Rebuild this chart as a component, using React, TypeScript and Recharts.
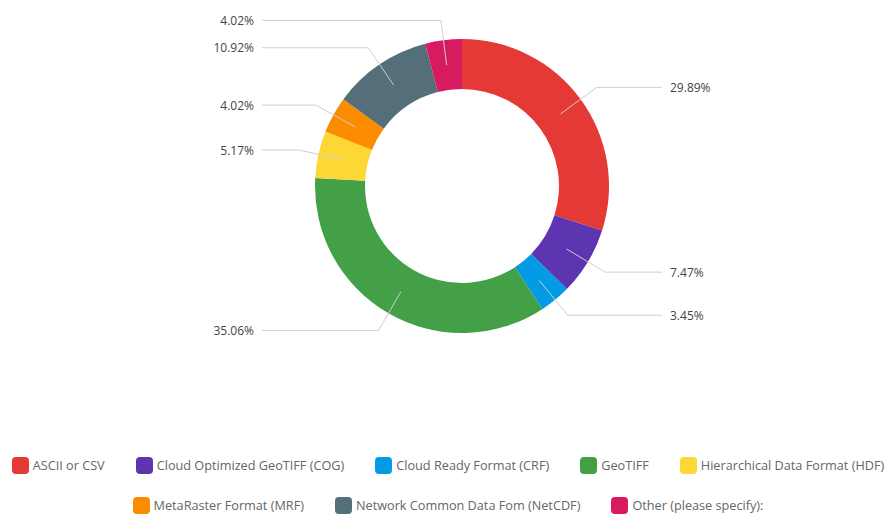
import { PieChart, Pie, Cell } from 'recharts';

const CATEGORIES = [
  'ASCII or CSV',
  'Cloud Optimized GeoTIFF (COG)',
  'Cloud Ready Format (CRF)',
  'GeoTIFF',
  'Hierarchical Data Format (HDF)',
  'MetaRaster Format (MRF)',
  'Network Common Data Fom (NetCDF)',
  'Other (please specify):',
];

const SHARES = [29.89, 7.47, 3.45, 35.06, 5.17, 4.02, 10.92, 4.02];

const COLORS = ['#e53935', '#5e35b1', '#039be5', '#43a047', '#fdd835', '#fb8c00', '#546e7a', '#d81b60'];

// legend rows as they wrap in the original
const LEGEND_ROWS = [[0, 1, 2, 3, 4], [5, 6, 7]];

const data = CATEGORIES.map((name, i) => ({ name, value: SHARES[i] }));

const RAD = Math.PI / 180;
const FONT = '"Open Sans", "Noto Sans", sans-serif';

const renderLabel = (props: any) => {
  const { cx, cy, midAngle, innerRadius, outerRadius, value } = props;
  const sin = Math.sin(-midAngle * RAD);
  const cos = Math.cos(-midAngle * RAD);
  const startR = (innerRadius + outerRadius) / 2;
  const elbowR = 167;
  const sx = cx + startR * cos;
  const sy = cy + startR * sin;
  const ex = cx + elbowR * cos;
  const ey = cy + elbowR * sin;
  const right = cos >= 0;
  const hx = right ? cx + 200 : cx - 200;
  const tx = right ? cx + 208 : cx - 208;
  return (
    <g>
      <polyline
        points={`${sx},${sy} ${ex},${ey} ${hx},${ey}`}
        fill="none"
        stroke="#cfcfcf"
        strokeWidth={1}
      />
      <text
        x={tx}
        y={ey}
        textAnchor={right ? 'start' : 'end'}
        dominantBaseline="central"
        fill="#444"
        fontSize={12}
        fontFamily={FONT}
      >
        {`${value.toFixed(2)}%`}
      </text>
    </g>
  );
};

export default function App() {
  return (
    <div style={{ position: 'absolute', left: 0, top: 0, width: 896, height: 517, background: '#fff', fontFamily: FONT }}>
      <PieChart width={896} height={420} margin={{ top: 0, right: 0, bottom: 0, left: 0 }}>
        <Pie
          data={data}
          dataKey="value"
          nameKey="name"
          cx={462}
          cy={186}
          innerRadius={97}
          outerRadius={147}
          startAngle={90}
          endAngle={-270}
          stroke="none"
          label={renderLabel}
          labelLine={false}
          isAnimationActive={false}
        >
          {data.map((d, i) => (
            <Cell key={d.name} fill={COLORS[i]} />
          ))}
        </Pie>
      </PieChart>
      <div style={{ position: 'absolute', left: 0, top: 456, width: 896 }}>
        {LEGEND_ROWS.map((row, r) => (
          <div
            key={r}
            style={{ display: 'flex', justifyContent: 'center', columnGap: 31, height: 40, alignItems: 'flex-start' }}
          >
            {row.map((i) => (
              <div key={i} style={{ display: 'flex', alignItems: 'center', gap: 4 }}>
                <span
                  style={{ width: 17, height: 17, borderRadius: 4, background: COLORS[i], display: 'inline-block' }}
                />
                <span style={{ fontSize: 12.7, color: '#666' }}>{CATEGORIES[i]}</span>
              </div>
            ))}
          </div>
        ))}
      </div>
    </div>
  );
}
